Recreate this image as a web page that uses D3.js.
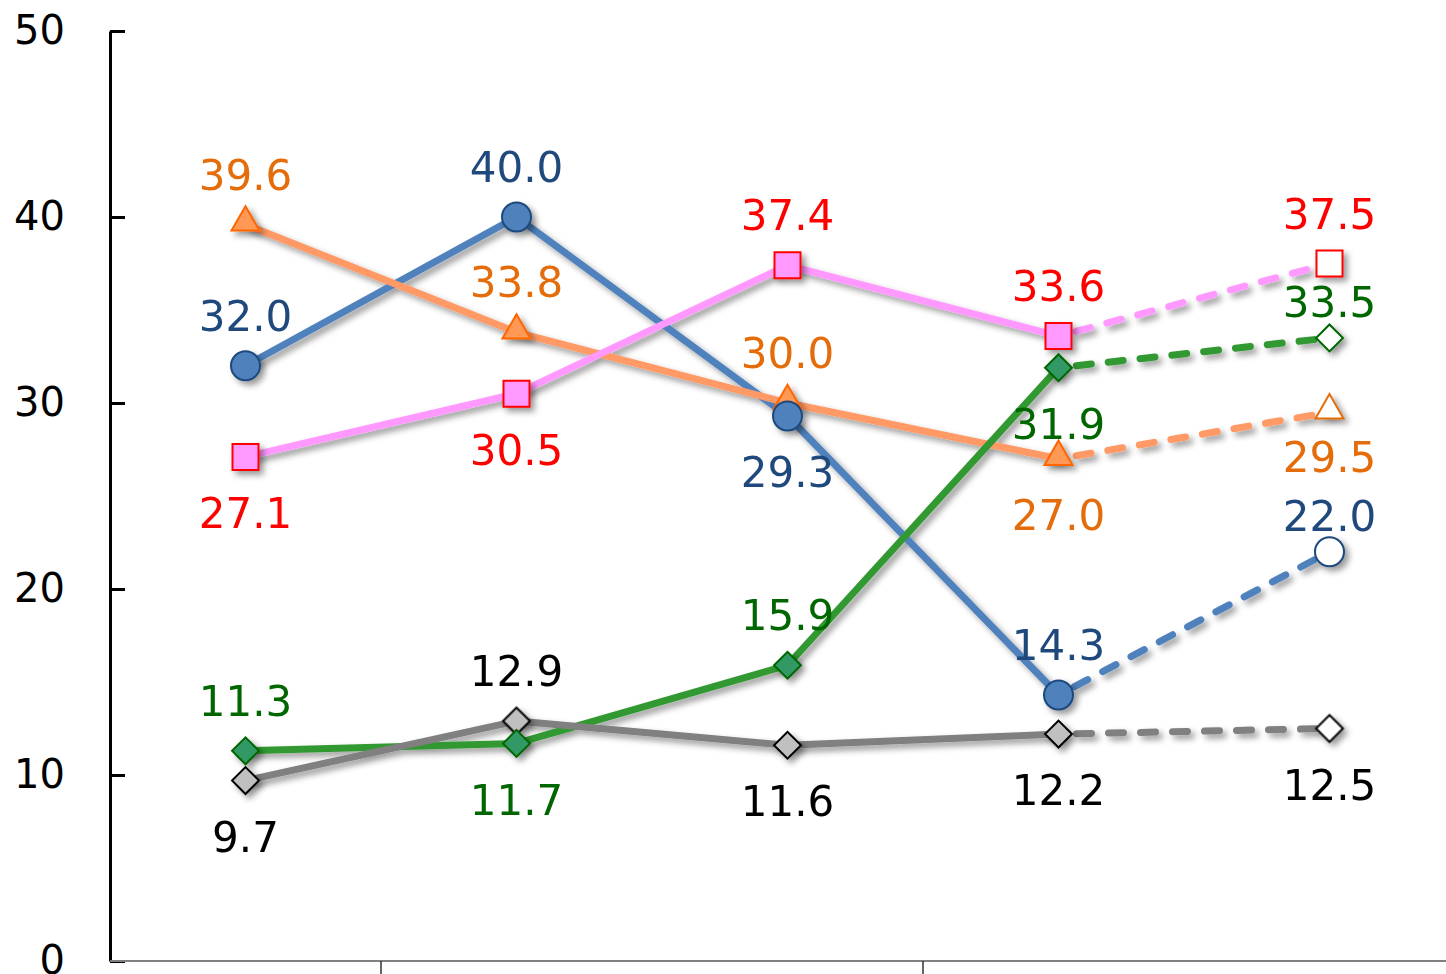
<!DOCTYPE html>
<html>
<head>
<meta charset="utf-8">
<script src="https://cdn.jsdelivr.net/npm/d3@7"></script>
<style>
  html, body { margin: 0; padding: 0; background: #fff; }
  svg { display: block; }
  text { font-family: "DejaVu Sans", Verdana, sans-serif; }
</style>
</head>
<body>
<svg id="chart" width="1446" height="974"></svg>
<script>
// ---- data ----
const categories = ["c1", "c2", "c3", "c4", "c5"];
const yTicks = [0, 10, 20, 30, 40, 50];

const blueValues   = [32.0, 40.0, 29.3, 14.3, 22.0];
const orangeValues = [39.6, 33.8, 30.0, 27.0, 29.5];
const pinkValues   = [27.1, 30.5, 37.4, 33.6, 37.5];
const greenValues  = [11.3, 11.7, 15.9, 31.9, 33.5];
const grayValues   = [9.7, 12.9, 11.6, 12.2, 12.5];

// label placement: "a" = above, "b" = below, "an"/"bn" = above/below, closer to the point
const blueLabelPos   = ["a", "a", "b", "a", "an"];
const orangeLabelPos = ["a", "a", "a", "b", "bn"];
const pinkLabelPos   = ["b", "b", "a", "a", "a"];
const greenLabelPos  = ["a", "b", "a", "b", "an"];
const grayLabelPos   = ["b", "a", "b", "b", "b"];

const series = [
  { name: "blue",   values: blueValues,   pos: blueLabelPos,   shape: "circle",   line: "#4f81bd", fill: "#4f81bd", stroke: "#1f497d", label: "#1f497d" },
  { name: "orange", values: orangeValues, pos: orangeLabelPos, shape: "triangle", line: "#ff9966", fill: "#ff9955", stroke: "#ff6600", label: "#e46c0a" },
  { name: "pink",   values: pinkValues,   pos: pinkLabelPos,   shape: "square",   line: "#ff99ff", fill: "#ff99ff", stroke: "#ff0000", label: "#ff0000" },
  { name: "gray",   values: grayValues,   pos: grayLabelPos,   shape: "diamond",  line: "#808080", fill: "#c0c0c0", stroke: "#000000", label: "#000000" },
  { name: "green",  values: greenValues,  pos: greenLabelPos,  shape: "diamond",  line: "#339933", fill: "#339966", stroke: "#006600", label: "#006600" }
];
const lineOrder = ["blue", "orange", "pink", "green", "gray"];
const markerOrder = ["gray", "orange", "blue", "pink", "green"];
const labelOffset = { a: -50, an: -36, b: 56, bn: 45 };

// ---- layout ----
const svg = d3.select("#chart");
const x = d3.scaleBand().domain(categories).range([110, 1465]).padding(0);
const y = d3.scaleLinear().domain([0, 50]).range([961, 31]);
const cx = c => x(c) + x.bandwidth() / 2;

const defs = svg.append("defs");
const f = defs.append("filter").attr("id", "shadow")
  .attr("x", "-50%").attr("y", "-50%").attr("width", "200%").attr("height", "200%");
f.append("feDropShadow").attr("dx", 4).attr("dy", 4).attr("stdDeviation", 3)
  .attr("flood-color", "#000").attr("flood-opacity", 0.4);

// y axis
const yAxis = d3.axisLeft(y).tickValues(yTicks).tickSizeInner(-15).tickSizeOuter(0).tickPadding(45);
const gy = svg.append("g").attr("transform", "translate(110,0)").call(yAxis);
gy.select(".domain").attr("stroke", "#000").attr("stroke-width", 3);
gy.selectAll(".tick line").attr("stroke", "#000").attr("stroke-width", 3);
gy.selectAll(".tick text").attr("font-size", 40).attr("fill", "#000")
  .attr("font-family", "DejaVu Sans, Verdana, sans-serif");

// x axis
svg.append("line").attr("x1", 110).attr("x2", 1446).attr("y1", y(0)).attr("y2", y(0))
  .attr("stroke", "#808080").attr("stroke-width", 2);
const boundaries = categories.map(c => x(c) + x.bandwidth()).filter((d, i) => i % 2 === 0);
svg.selectAll(".xtick").data(boundaries).enter().append("line")
  .attr("x1", d => d).attr("x2", d => d).attr("y1", y(0)).attr("y2", y(0) + 13)
  .attr("stroke", "#333").attr("stroke-width", 1.5);

// lines
const lineGen = d3.line().x(d => cx(d.c)).y(d => y(d.v));
const byName = n => series.find(s => s.name === n);
const gLines = svg.append("g").attr("filter", "url(#shadow)");
lineOrder.forEach(n => {
  const s = byName(n);
  const pts = s.values.map((v, i) => ({ c: categories[i], v }));
  gLines.append("path").datum(pts.slice(0, 4)).attr("d", lineGen)
    .attr("fill", "none").attr("stroke", s.line).attr("stroke-width", 7)
    .attr("stroke-linejoin", "round");
  gLines.append("path").datum(pts.slice(3, 5)).attr("d", lineGen)
    .attr("fill", "none").attr("stroke", s.line).attr("stroke-width", 7)
    .attr("stroke-dasharray", "15,17").attr("stroke-dashoffset", -18).attr("stroke-linecap", "round");
});

// markers
const symbolMap = {
  circle: d3.symbol().type(d3.symbolCircle).size(Math.PI * 14.5 * 14.5),
  triangle: d3.symbol().type(d3.symbolTriangle).size(340),
  square: d3.symbol().type(d3.symbolSquare).size(26 * 26),
  diamond: d3.symbol().type(d3.symbolSquare).size(19 * 19)
};
const gMarkers = svg.append("g").attr("filter", "url(#shadow)");
markerOrder.forEach(n => {
  const s = byName(n);
  s.values.forEach((v, i) => {
    const hollow = i === 4;
    const rot = s.shape === "diamond" ? 45 : 0;
    const dyOff = s.shape === "triangle" ? -2 : 0;
    gMarkers.append("path")
      .attr("d", symbolMap[s.shape]())
      .attr("transform", `translate(${cx(categories[i])},${y(v) + dyOff}) rotate(${rot})`)
      .attr("fill", hollow ? "#fff" : s.fill)
      .attr("stroke", hollow ? s.label : s.stroke)
      .attr("stroke-width", 2);
  });
});

// labels
const gLabels = svg.append("g");
series.forEach(s => {
  s.values.forEach((v, i) => {
    gLabels.append("text")
      .attr("x", cx(categories[i]))
      .attr("y", y(v) + labelOffset[s.pos[i]])
      .attr("dy", "0.36em")
      .attr("text-anchor", "middle")
      .attr("font-size", 42)
      .attr("fill", s.label)
      .text(d3.format(".1f")(v));
  });
});
</script>
</body>
</html>
